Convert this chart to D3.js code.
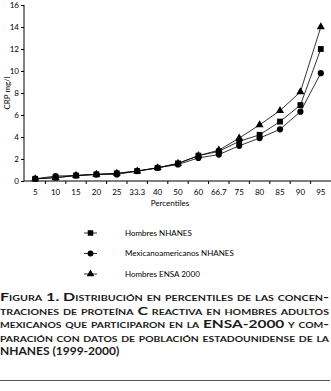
<!DOCTYPE html>
<html>
<head>
<meta charset="utf-8">
<script src="https://cdn.jsdelivr.net/npm/d3@7"></script>
<style>
  body { margin: 0; background: #fff; }
  svg { display: block; font-family: Lato, "Open Sans", sans-serif; }
  .caption { font-weight: bold; font-variant: small-caps; font-size: 12px; fill: #1a1a1a; }
</style>
</head>
<body>
<svg width="331" height="391"></svg>
<script>
// data
const percentiles = ['5', '10', '15', '20', '25', '33.3', '40', '50', '60', '66.7', '75', '80', '85', '90', '95'];
const hombresNhanes = [0.2, 0.3, 0.5, 0.6, 0.7, 0.9, 1.2, 1.6, 2.3, 2.7, 3.6, 4.2, 5.4, 6.9, 12.0];
const mexicanoNhanes = [0.2, 0.45, 0.5, 0.6, 0.6, 0.9, 1.2, 1.5, 2.1, 2.4, 3.2, 3.9, 4.7, 6.3, 9.8];
const hombresEnsa = [0.2, 0.3, 0.5, 0.6, 0.7, 0.9, 1.2, 1.6, 2.3, 2.8, 3.9, 5.1, 6.4, 8.1, 14.0];
const yTicks = [0, 2, 4, 6, 8, 10, 12, 14, 16];
const seriesNames = ['Hombres NHANES', 'Mexicanoamericanos NHANES', 'Hombres ENSA 2000'];
const captionLines = [
  'Figura 1. Distribución en percentiles de las concen-',
  'traciones de proteína C reactiva en hombres adultos',
  'mexicanos que participaron en la ENSA-2000 y com-',
  'paración con datos de población estadounidense de la',
  'NHANES (1999-2000)'
];

(function (d3) {
  'use strict';
  const svg = d3.select('svg');

  const x = d3.scaleBand().domain(percentiles).range([25, 331]);
  const y = d3.scaleLinear().domain([0, 16]).range([181, 5]);

  const series = [
    { name: seriesNames[0], values: hombresNhanes, symbol: d3.symbolSquare, size: 34 },
    { name: seriesNames[1], values: mexicanoNhanes, symbol: d3.symbolCircle, size: 30 },
    { name: seriesNames[2], values: hombresEnsa, symbol: d3.symbolTriangle, size: 28 }
  ];

  // axes
  const yAxis = d3.axisLeft(y).tickValues(yTicks).tickSize(3).tickPadding(2);
  svg.append('g')
      .attr('transform', 'translate(24,0)')
      .call(yAxis)
      .call(g => g.select('.domain').attr('d', `M0,${y(16)}V${y(0)}`))
      .call(g => g.selectAll('text').attr('font-size', 8).attr('font-family', 'Lato'));

  const xAxisG = svg.append('g')
      .attr('transform', `translate(0,${y(0)})`);
  xAxisG.append('line')
      .attr('x1', 24).attr('x2', 331)
      .attr('stroke', '#000');
  xAxisG.selectAll('.tick')
    .data(percentiles.slice(1))
    .enter().append('line')
      .attr('x1', d => x(d)).attr('x2', d => x(d))
      .attr('y1', 0).attr('y2', 3)
      .attr('stroke', '#000');
  xAxisG.selectAll('text')
    .data(percentiles)
    .enter().append('text')
      .attr('x', d => x(d) + x.bandwidth() / 2)
      .attr('y', 14)
      .attr('text-anchor', 'middle')
      .attr('font-size', 8)
      .text(d => d);

  svg.append('text')
      .attr('transform', 'translate(10,93) rotate(-90)')
      .attr('text-anchor', 'middle')
      .attr('font-size', 8)
      .text('CRP mg/l');

  svg.append('text')
      .attr('x', 170).attr('y', 206)
      .attr('text-anchor', 'middle')
      .attr('font-size', 8)
      .text('Percentiles');

  // lines and markers
  const line = d3.line()
      .x((d, i) => x(percentiles[i]) + x.bandwidth() / 2)
      .y(d => y(d));

  const sg = svg.selectAll('.series')
    .data(series)
    .enter().append('g')
      .attr('class', 'series');

  sg.append('path')
      .attr('d', d => line(d.values))
      .attr('fill', 'none')
      .attr('stroke', '#000')
      .attr('stroke-width', 0.8);

  sg.each(function (s) {
    d3.select(this).selectAll('path.mark')
      .data(s.values)
      .enter().append('path')
        .attr('class', 'mark')
        .attr('transform', (d, i) => `translate(${x(percentiles[i]) + x.bandwidth() / 2},${y(d)})`)
        .attr('d', d3.symbol().type(s.symbol).size(s.size))
        .attr('fill', '#000');
  });

  // legend
  const legend = svg.append('g')
      .attr('transform', 'translate(84,233)');
  const items = legend.selectAll('g')
    .data(series)
    .enter().append('g')
      .attr('transform', (d, i) => `translate(0,${i * 20.5})`);
  items.append('line')
      .attr('x1', 0).attr('x2', 13)
      .attr('stroke', '#000').attr('stroke-width', 0.8);
  items.append('path')
      .attr('transform', 'translate(6.5,0)')
      .attr('d', d => d3.symbol().type(d.symbol).size(d.size * 0.9)())
      .attr('fill', '#000');
  items.append('text')
      .attr('x', 41).attr('dy', '0.35em')
      .attr('font-size', 8)
      .text(d => d.name);

  // caption
  const caption = svg.append('g');
  caption.selectAll('text')
    .data(captionLines)
    .enter().append('text')
      .attr('class', 'caption')
      .attr('x', 0)
      .attr('y', (d, i) => 301 + i * 13.5)
      .attr('textLength', (d, i) => i < captionLines.length - 1 ? 329 : null)
      .attr('lengthAdjust', 'spacingAndGlyphs')
      .text(d => d);

  svg.append('line')
      .attr('x1', 0).attr('x2', 330)
      .attr('y1', 380.5).attr('y2', 380.5)
      .attr('stroke', '#555').attr('stroke-width', 1);
}(d3));
</script>
</body>
</html>
